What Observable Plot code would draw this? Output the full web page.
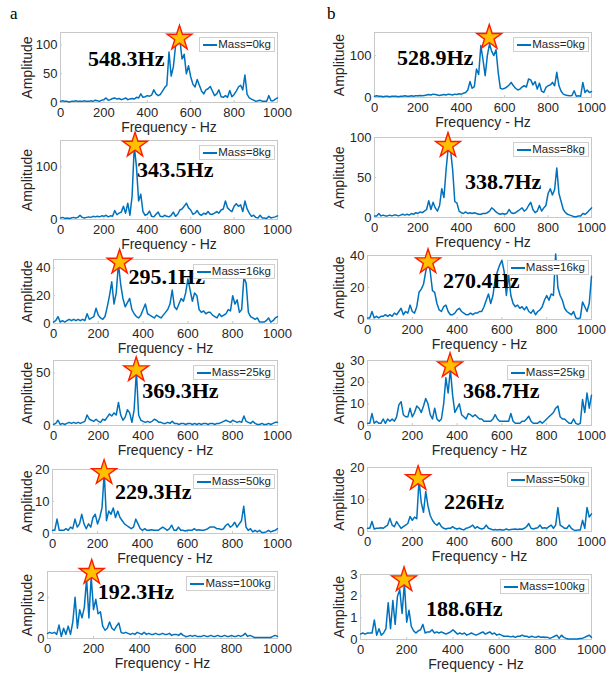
<!DOCTYPE html>
<html>
<head>
<meta charset="utf-8">
<script src="https://cdn.jsdelivr.net/npm/d3@7"></script>
<script src="https://cdn.jsdelivr.net/npm/@observablehq/plot@0.6"></script>
<style>
  body { margin: 0; background: #fff; }
  #fig { position: relative; width: 613px; height: 677px; overflow: hidden; background: #fff;
         font-family: "Liberation Sans", Arial, sans-serif; }
  .panel { position: absolute; }
  .panel svg { display: block; max-width: none; }
  .legend { position: absolute; z-index: 2; background: #fff; border: 1px solid #cfcfcf;
            font: 11.5px "Liberation Sans", Arial, sans-serif; color: #262626;
            line-height: 13px; padding: 0 3px; display: flex; align-items: center; white-space: nowrap; }
  .legend .swatch { display: block; flex: none; width: 14px; height: 2px; background: #0072BD; margin-right: 1px; }
  .tag { position: absolute; font: 17px "Liberation Serif", "Times New Roman", serif; color: #000; line-height: 1; }
</style>
</head>
<body>
<div id="fig">
  <div class="tag" style="left:10px;top:5px">a</div>
  <div class="tag" style="left:327px;top:5px">b</div>
</div>
<script>
// Frequency samples (Hz) shared by every spectrum
const freqHz = d3.range(0, 1001, 10);
const xTicks = [0, 200, 400, 600, 800, 1000];
const massKg = [0, 8, 16, 25, 50, 100];

// Dominant peak of each spectrum (frequency in Hz, amplitude)
const peakHzA = [548.3, 343.5, 295.1, 369.3, 229.3, 192.3];
const peakAmpA = [112, 141, 44, 53, 19, 3.2];
const peakHzB = [528.9, 338.7, 270.4, 368.7, 226, 188.6];
const peakAmpB = [143, 90, 36, 27.5, 16.5, 2.75];

// Column a spectra
const ampA_0kg = [2,3,2,2,1,2,2,3,2,2, 2,3,2,2,3,2,4,3,2,4, 5,8,4,5,7,8,6,7,5,6, 8,5,6,7,6,9,8,15,9,10,
  12,11,13,22,15,12,14,20,26,30, 88,46,62,98,104,110,76,84,50,64, 45,32,27,40,30,20,15,22,24,28,
  20,12,15,22,10,9,12,9,21,10, 14,20,27,30,22,48,14,8,6,4, 2,3,4,2,2,2,12,3,3,6,8];
const ampA_8kg = [3,4,2,3,2,3,4,3,4,8, 4,3,4,5,4,6,5,6,5,7, 6,8,5,7,6,17,9,12,14,25, 12,31,8,45,140,100,35,48,15,8,
  10,16,6,5,10,14,6,5,8,6, 5,8,14,6,10,18,20,25,31,22, 18,10,12,17,10,8,12,10,15,10,
  10,12,15,12,18,20,35,22,18,15, 25,30,25,28,15,35,20,12,6,8, 4,3,8,3,3,2,6,3,4,5,7];
const ampA_16kg = [1,2,5,1,2,1,2,3,2,3, 2,3,2,3,2,7,3,4,5,11, 6,4,3,5,12,20,30,14,22,43, 28,18,12,15,18,10,7,5,4,6,
  10,14,7,6,5,4,6,5,4,6, 8,10,14,24,12,10,14,18,16,22, 32,24,16,22,20,10,8,9,7,8,
  8,6,5,4,7,5,6,7,10,9, 20,14,17,8,10,33,29,8,5,4, 3,4,1,1,1,2,4,1,2,4,5];
const ampA_25kg = [1,2,5,1,2,1,2,3,2,3, 2,3,2,3,4,10,6,5,4,6, 4,3,6,5,8,11,9,12,10,22, 10,5,8,15,12,3,15,52,10,5,
  4,3,4,3,4,6,5,3,3,2, 2,3,2,4,2,2,1,2,2,1, 2,2,1,2,1,2,1,2,2,1,
  2,2,1,2,2,3,4,5,4,3, 5,4,3,4,3,9,4,3,2,4, 2,1,1,2,1,1,2,1,2,3,3];
const ampA_50kg = [1,1,4.5,1,1,1,1.5,1,2,1.5, 4.5,2,3,6,3,1.5,3,2,5,6, 3,5,8,19,4,7,6,8,5,7, 5,4,3,2.5,2,1.5,2,4.5,3,1.5,
  1,1.5,1,1,1.2,1,1,1,1.5,2, 1.5,1,1.5,2.6,1,1,2,1,1,0.8, 1,1,1,1.5,1,1.2,1,1,1.2,1.5,
  2,2,2,1.5,1.5,1.2,1.5,2.5,3,2, 2.5,3.5,2,3,4,8.5,2,1,1.5,0.5, 1,0.5,1,0.3,0.3,0.5,1,0.5,0.8,1,1.5];
const ampA_100kg = [0.25,0.3,0.25,0.3,0.2,0.65,0.1,0.5,0.2,0.6, 0.2,0.8,2.0,0.5,1.4,1.0,1.5,2.9,1.0,3.0,
  1.4,1.9,1.2,1.3,0.6,0.4,0.5,0.8,0.5,0.4, 0.6,0.75,0.3,0.25,0.3,0.25,0.2,0.25,0.2,0.3,
  0.25,0.2,0.3,0.2,0.25,0.2,0.2,0.25,0.2,0.2, 0.25,0.2,0.2,0.25,0.15,0.2,0.2,0.15,0.25,0.15,
  0.1,0.1,0.15,0.1,0.15,0.1,0.1,0.1,0.15,0.1, 0.1,0.15,0.1,0.1,0.15,0.1,0.1,0.15,0.1,0.1,
  0.15,0.1,0.1,0.15,0.1,0.15,0.25,0.1,0.15,0.1, 0.05,0.05,0.05,0.05,0.05,0.05,0.05,0.05,0.1,0.15,0.1];

// Column b spectra
const ampB_0kg = [3,4,3,3,2,3,3,2,3,3, 3,2,3,3,4,3,3,4,3,4, 4,5,4,5,6,7,6,8,7,6, 5,6,7,6,8,7,6,8,7,9,
  8,10,12,18,38,22,26,68,55,124, 90,52,100,128,110,100,114,60,22,20, 22,25,30,36,28,22,18,20,25,28,
  25,44,42,30,38,20,34,15,12,24, 28,30,36,28,60,28,15,8,6,5, 4,5,16,3,4,3,36,12,18,12,14];
const ampB_8kg = [2,2,5,2,3,2,2,3,2,3, 3,2,3,4,3,4,3,5,4,6, 5,7,6,8,10,21,10,19,12,8, 15,36,25,60,88,86,60,20,18,8,
  6,5,7,5,6,5,6,5,4,4, 5,5,6,8,12,10,7,5,4,5, 4,5,10,6,5,6,8,10,12,8,
  10,15,19,10,6,8,15,8,12,15, 30,36,28,35,62,30,20,10,6,4, 3,2,1,1,2,2,5,4,6,9,12];
const ampB_16kg = [1,1,5,1,2,1,2,2,3,2, 3,2,4,3,5,7,3,5,4,9, 5,4,8,17,19,22,30,36,30,18, 17,10,6,5,8,9,5,3,3,4,
  6,7,5,4,3,3,4,3,4,4, 5,5,8,12,16,10,15,25,30,34, 37,30,15,28,15,10,8,9,7,8,
  6,8,5,4,6,3,5,6,8,12, 15,12,16,15,41,20,15,12,7,5, 4,3,5,1,0.5,1,11,8,5,10,27];
const ampB_25kg = [1,1,5.5,1,2,1,1,3,1,3, 2,3,2,4,9.5,11,5,4,4,8, 4,6,9,8,6,9,12.5,10,5,3, 8,3,2,3,10,22,15,26,14,6,
  8,10,5,4,3,5.5,5,4,5,4, 3,3,2,2,2,2,3,5,3,2, 2,2,2,2,5.5,2,1,1,1,2,
  2,3,4.3,2,1,1,1,2,1,2, 3,4,5,6,8,9,4,3,3,2, 1,1,3,1,0.5,1,12,6,15,8,14];
const ampB_50kg = [1,1,3.1,0.8,1,1,1.2,1,1.5,2, 4.1,2,1.5,3.1,2,1,1.5,2,2.5,4.7, 3.5,4.5,4,16,9,6,12.5,8,5,3.5,
  2.5,2,2.7,1.5,1,0.8,1,1,1.5,1, 0.8,1,0.7,0.5,1,1.2,1.5,2,1,1.5, 1,0.8,1,2,1,0.8,0.5,0.6,0.5,0.6,
  0.5,0.5,0.8,0.5,0.6,0.7,0.8,0.6,0.8,0.7, 1,1.5,2.5,1,0.8,1,1.2,2,1,1.2, 1,1.5,2,1,2,7.5,2,1.5,1,1,
  2,1,0.5,0.3,0.5,0.5,3.5,1,7.5,4.5,5.5];
const ampB_100kg = [0.25,0.3,0.25,0.3,0.3,0.3,0.9,0.2,0.5,0.2, 0.3,0.5,1.7,0.5,1.8,0.7,2.0,2.3,1.2,2.6,
  0.8,1.35,0.6,0.4,0.3,0.4,0.45,0.7,0.3,0.35, 0.35,0.45,0.3,0.35,0.3,0.35,0.3,0.25,0.3,0.35,
  0.45,0.35,0.25,0.3,0.25,0.3,0.2,0.25,0.3,0.25, 0.2,0.25,0.3,0.35,0.25,0.3,0.35,0.25,0.3,0.2,
  0.25,0.2,0.15,0.15,0.15,0.12,0.15,0.1,0.15,0.15, 0.2,0.15,0.15,0.1,0.15,0.12,0.1,0.15,0.1,0.12,
  0.1,0.1,0.05,0.1,0.15,0.2,0.05,0.2,0.1,0.05, 0.02,0.02,0.02,0.02,0.02,0.05,0.05,0.1,0.15,0.2,0.1];

const seriesA = [ampA_0kg, ampA_8kg, ampA_16kg, ampA_25kg, ampA_50kg, ampA_100kg];
const seriesB = [ampB_0kg, ampB_8kg, ampB_16kg, ampB_25kg, ampB_50kg, ampB_100kg];

// Plot-area placement of each subplot, its y range, and the offset of the peak label from the star
const panels = [
  {col: 0, row: 0, left: 60,  top: 32,  w: 217, h: 70, ymax: 122,  yTicks: [0, 50, 100],    anchor: "end",   dx: -15, dy: 28},
  {col: 0, row: 1, left: 60,  top: 140, w: 217, h: 79, ymax: 150,  yTicks: [0, 100],        anchor: "start", dx: 2,   dy: 32},
  {col: 0, row: 2, left: 53,  top: 259, w: 224, h: 64, ymax: 46,   yTicks: [0, 20, 40],     anchor: "start", dx: 9,   dy: 22},
  {col: 0, row: 3, left: 53,  top: 360, w: 224, h: 65, ymax: 62,   yTicks: [0, 50],         anchor: "start", dx: 6,   dy: 28},
  {col: 0, row: 4, left: 52,  top: 469, w: 225, h: 64, ymax: 20,   yTicks: [0, 10, 20],     anchor: "start", dx: 11,  dy: 26},
  {col: 0, row: 5, left: 47,  top: 571, w: 230, h: 67, ymax: 3.25, yTicks: [0, 2],          anchor: "start", dx: 6,   dy: 26},
  {col: 1, row: 0, left: 374, top: 32,  w: 217, h: 65, ymax: 155,  yTicks: [0, 100],        anchor: "end",   dx: -16, dy: 27},
  {col: 1, row: 1, left: 374, top: 137, w: 217, h: 80, ymax: 100,  yTicks: [0, 50, 100],    anchor: "start", dx: 17,  dy: 43},
  {col: 1, row: 2, left: 367, top: 255, w: 224, h: 64, ymax: 40,   yTicks: [0, 20, 40],     anchor: "start", dx: 15,  dy: 26},
  {col: 1, row: 3, left: 367, top: 360, w: 224, h: 65, ymax: 30,   yTicks: [0, 10, 20, 30], anchor: "start", dx: 13,  dy: 32},
  {col: 1, row: 4, left: 367, top: 467, w: 224, h: 64, ymax: 20,   yTicks: [0, 10, 20],     anchor: "start", dx: 26,  dy: 30},
  {col: 1, row: 5, left: 360, top: 574, w: 231, h: 65, ymax: 3,    yTicks: [0, 1, 2, 3],    anchor: "start", dx: 22,  dy: 36}
];
const yLabelX = [27, 339];   // page x of the rotated "Amplitude" label, per column
const M = {l: 56, r: 10, t: 18, b: 40};
const figWidth = 613;
const plainNumber = d => String(d);

const fig = document.getElementById("fig");

for (const p of panels) {
  const amps = (p.col ? seriesB : seriesA)[p.row];
  const peak = [{f: (p.col ? peakHzB : peakHzA)[p.row], a: (p.col ? peakAmpB : peakAmpA)[p.row]}];

  const svg = Plot.plot({
    width: p.w + M.l + M.r,
    height: p.h + M.t + M.b,
    marginLeft: M.l, marginRight: M.r, marginTop: M.t, marginBottom: M.b,
    style: {background: "transparent", overflow: "visible", color: "#262626",
            fontFamily: "'Liberation Sans', Arial, sans-serif"},
    x: {domain: [0, 1000]},
    y: {domain: [0, p.ymax]},
    marks: [
      Plot.frame({stroke: "#c8c8c8"}),
      // short inward tick marks along the bottom and left edges
      Plot.tickX(xTicks, {x: d => d, insetTop: p.h - 2, stroke: "#c8c8c8"}),
      Plot.tickY(p.yTicks, {y: d => d, insetRight: p.w - 2, stroke: "#c8c8c8"}),
      Plot.axisX({ticks: xTicks, tickFormat: plainNumber, tickSize: 0, tickPadding: 5, label: null, fontSize: 13}),
      Plot.axisY({ticks: p.yTicks, tickFormat: plainNumber, tickSize: 0, tickPadding: 3, label: null, fontSize: 13}),
      Plot.text(["Frequency - Hz"], {frameAnchor: "bottom", textAnchor: "middle", dy: 29, fontSize: 14, fill: "#262626"}),
      Plot.text(["Amplitude"], {frameAnchor: "left", textAnchor: "middle", rotate: -90,
                                dx: yLabelX[p.col] - p.left, fontSize: 14, fill: "#262626"}),
      Plot.line(amps, {x: freqHz, y: amps, stroke: "#0072BD", strokeWidth: 1.5}),
      Plot.dot(peak, {x: "f", y: "a", symbol: "star", r: 7.8, fill: "#FFC000", stroke: "#FF1A00", strokeWidth: 1.4}),
      Plot.text(peak, {x: "f", y: "a", text: d => `${d.f}Hz`, textAnchor: p.anchor, lineAnchor: "bottom",
                       dx: p.dx, dy: p.dy, fontFamily: "'Liberation Serif', 'Times New Roman', serif",
                       fontWeight: "bold", fontSize: 22, fill: "#000"})
    ]
  });

  const holder = document.createElement("div");
  holder.className = "panel";
  holder.style.left = (p.left - M.l) + "px";
  holder.style.top = (p.top - M.t) + "px";
  holder.append(svg);

  const legend = document.createElement("div");
  legend.className = "legend";
  legend.style.right = (figWidth - (p.left + p.w) + 2) + "px";
  legend.style.top = (p.top + 5) + "px";
  legend.innerHTML = `<span class="swatch"></span>Mass=${massKg[p.row]}kg`;

  fig.append(holder, legend);
}
</script>
</body>
</html>
